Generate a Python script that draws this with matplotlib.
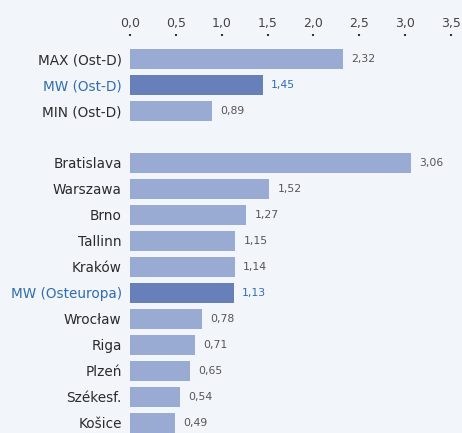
import numpy as np
import matplotlib.pyplot as plt

# data
labels_top = ["MAX (Ost-D)", "MW (Ost-D)", "MIN (Ost-D)"]
values_top = [2.32, 1.45, 0.89]
labels_city = ["Bratislava", "Warszawa", "Brno", "Tallinn", "Kraków",
               "MW (Osteuropa)", "Wrocław", "Riga", "Plzeń", "Székesf.", "Košice"]
values_city = [3.06, 1.52, 1.27, 1.15, 1.14, 1.13, 0.78, 0.71, 0.65, 0.54, 0.49]
highlight = ["MW (Ost-D)", "MW (Osteuropa)"]

bg = "#f2f5fa"
c_bar = "#9aabd3"
c_mw = "#6880b9"
c_blue = "#2f6db0"
c_text = "#2b2b2b"

labels = labels_top + labels_city
values = values_top + values_city
# leave one empty slot between the two groups
pos = list(range(len(labels_top))) + [len(labels_top) + 1 + i for i in range(len(labels_city))]

fig = plt.figure(figsize=(4.62, 4.33), dpi=100, facecolor=bg)
ax = fig.add_axes([130 / 462, 0, (451 - 130) / 462, 1 - 36 / 433])
ax.set_facecolor(bg)

for p, lab, v in zip(pos, labels, values):
    col = c_mw if lab in highlight else c_bar
    ax.barh(p, v, height=0.77, color=col, zorder=2)
    tcol = c_blue if lab in highlight else "#555555"
    ax.text(v + 0.09, p, f"{v:.2f}".replace(".", ","), va="center", ha="left",
            fontsize=7.8, color=tcol)

ax.set_xlim(0, 3.5)
ax.set_ylim(14.4, -0.88)
ax.set_yticks(pos)
ax.set_yticklabels(labels, fontsize=9.8, color=c_text)
for t in ax.get_yticklabels():
    if t.get_text() in highlight:
        t.set_color(c_blue)
ax.tick_params(axis="y", length=0, pad=6)

xt = np.arange(0, 3.51, 0.5)
ax.set_xticks(xt)
ax.set_xticklabels([f"{x:.1f}".replace(".", ",") for x in xt], fontsize=9, color="#444444")
ax.xaxis.tick_top()
ax.tick_params(axis="x", length=1.5, width=1.5, color="#333333", pad=2.5, direction="out")

for s in ax.spines.values():
    s.set_visible(False)

fig.savefig("out.png", dpi=100, facecolor=bg)
